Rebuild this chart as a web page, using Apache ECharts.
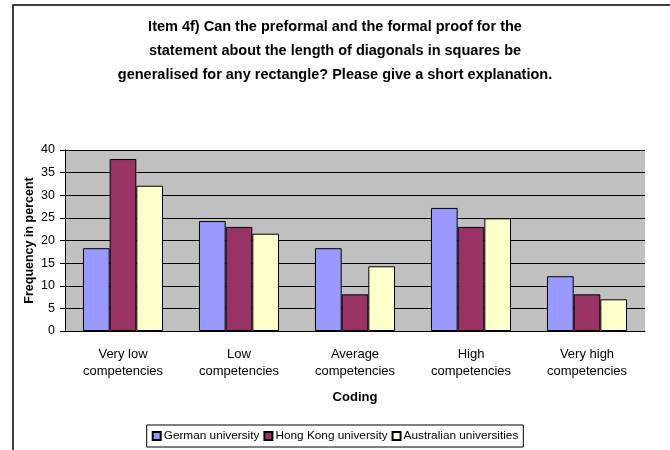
<!DOCTYPE html>
<html lang="en">
<head>
    <meta charset="UTF-8">
    <title>Item 4f</title>
    <script src="https://cdn.jsdelivr.net/npm/echarts@6/dist/echarts.min.js"></script>
</head>
<body style="margin:0">
    <div style="width: 670px;height: 450px" id="myBar"></div>
    <script type="text/javascript">
        var categories = ['Very low\ncompetencies', 'Low\ncompetencies', 'Average\ncompetencies', 'High\ncompetencies', 'Very high\ncompetencies'];
        var german = [18.3, 24.3, 18.3, 27.2, 12.1];
        var hongKong = [38, 23, 8.1, 23, 8.1];
        var australian = [32.1, 21.5, 14.3, 24.9, 7.0];
        var yTicks = [0, 5, 10, 15, 20, 25, 30, 35, 40];

        var myEcharts = echarts.init(document.getElementById('myBar'));
        var font = 'Liberation Sans, Arial, sans-serif';
        var option = {
            animation: false,
            backgroundColor: '#fff',
            textStyle: { fontFamily: font },
            title: {
                text: 'Item 4f) Can the preformal and the formal proof for the\nstatement about the length of diagonals in squares be\ngeneralised for any rectangle? Please give a short explanation.',
                left: 'center',
                top: 10,
                textStyle: { fontSize: 14.5, fontWeight: 'bold', color: '#000', lineHeight: 24, fontFamily: font }
            },
            graphic: [{
                type: 'rect',
                shape: { x: 13, y: 5, width: 700, height: 500 },
                style: { fill: 'none', stroke: '#000', lineWidth: 1.5 }
            }],
            legend: {
                bottom: 3,
                left: 'center',
                itemWidth: 8,
                itemHeight: 8,
                itemGap: 4,
                icon: 'rect',
                borderColor: '#000',
                borderWidth: 1,
                borderRadius: 0,
                padding: [5, 5],
                textStyle: { fontSize: 11.8, color: '#000', fontFamily: font, padding: [0, 0, 0, -2] },
                data: ['German university', 'Hong Kong university', 'Australian universities']
            },
            grid: { left: 65, right: 25, top: 150, bottom: 119 },
            xAxis: {
                type: 'category',
                data: categories,
                name: 'Coding',
                nameLocation: 'middle',
                nameGap: 60,
                nameMoveOverlap: false,
                nameTextStyle: { fontSize: 13, fontWeight: 'bold', color: '#000' },
                axisLine: { lineStyle: { color: '#000' } },
                axisTick: { lineStyle: { color: '#000' }, length: 5 },
                axisLabel: { fontSize: 13, color: '#000', lineHeight: 17, margin: 15 }
            },
            yAxis: {
                type: 'value',
                min: 0,
                max: 40,
                interval: 5,
                name: 'Frequency in percent',
                nameLocation: 'middle',
                nameGap: 29,
                nameMoveOverlap: false,
                nameTextStyle: { fontSize: 12.5, fontWeight: 'bold', color: '#000' },
                axisLine: { show: true, lineStyle: { color: '#000' } },
                axisTick: { show: true, lineStyle: { color: '#000' }, length: 5 },
                axisLabel: {
                    fontSize: 12.5, color: '#000', margin: 10,
                    formatter: function (v) { return yTicks.indexOf(v) >= 0 ? String(v) : ''; }
                },
                splitLine: { lineStyle: { color: '#000', width: 1 } },
                splitArea: { show: true, areaStyle: { color: ['#C0C0C0', '#C0C0C0'] } }
            },
            series: [
                {
                    name: 'German university', type: 'bar', data: german,
                    barGap: '0%', barCategoryGap: '31%',
                    itemStyle: { color: '#9999FF', borderColor: '#000', borderWidth: 1 }
                },
                {
                    name: 'Hong Kong university', type: 'bar', data: hongKong,
                    itemStyle: { color: '#993366', borderColor: '#000', borderWidth: 1 }
                },
                {
                    name: 'Australian universities', type: 'bar', data: australian,
                    itemStyle: { color: '#FFFFCC', borderColor: '#000', borderWidth: 1 }
                }
            ]
        };
        myEcharts.setOption(option);
    </script>
</body>
</html>
